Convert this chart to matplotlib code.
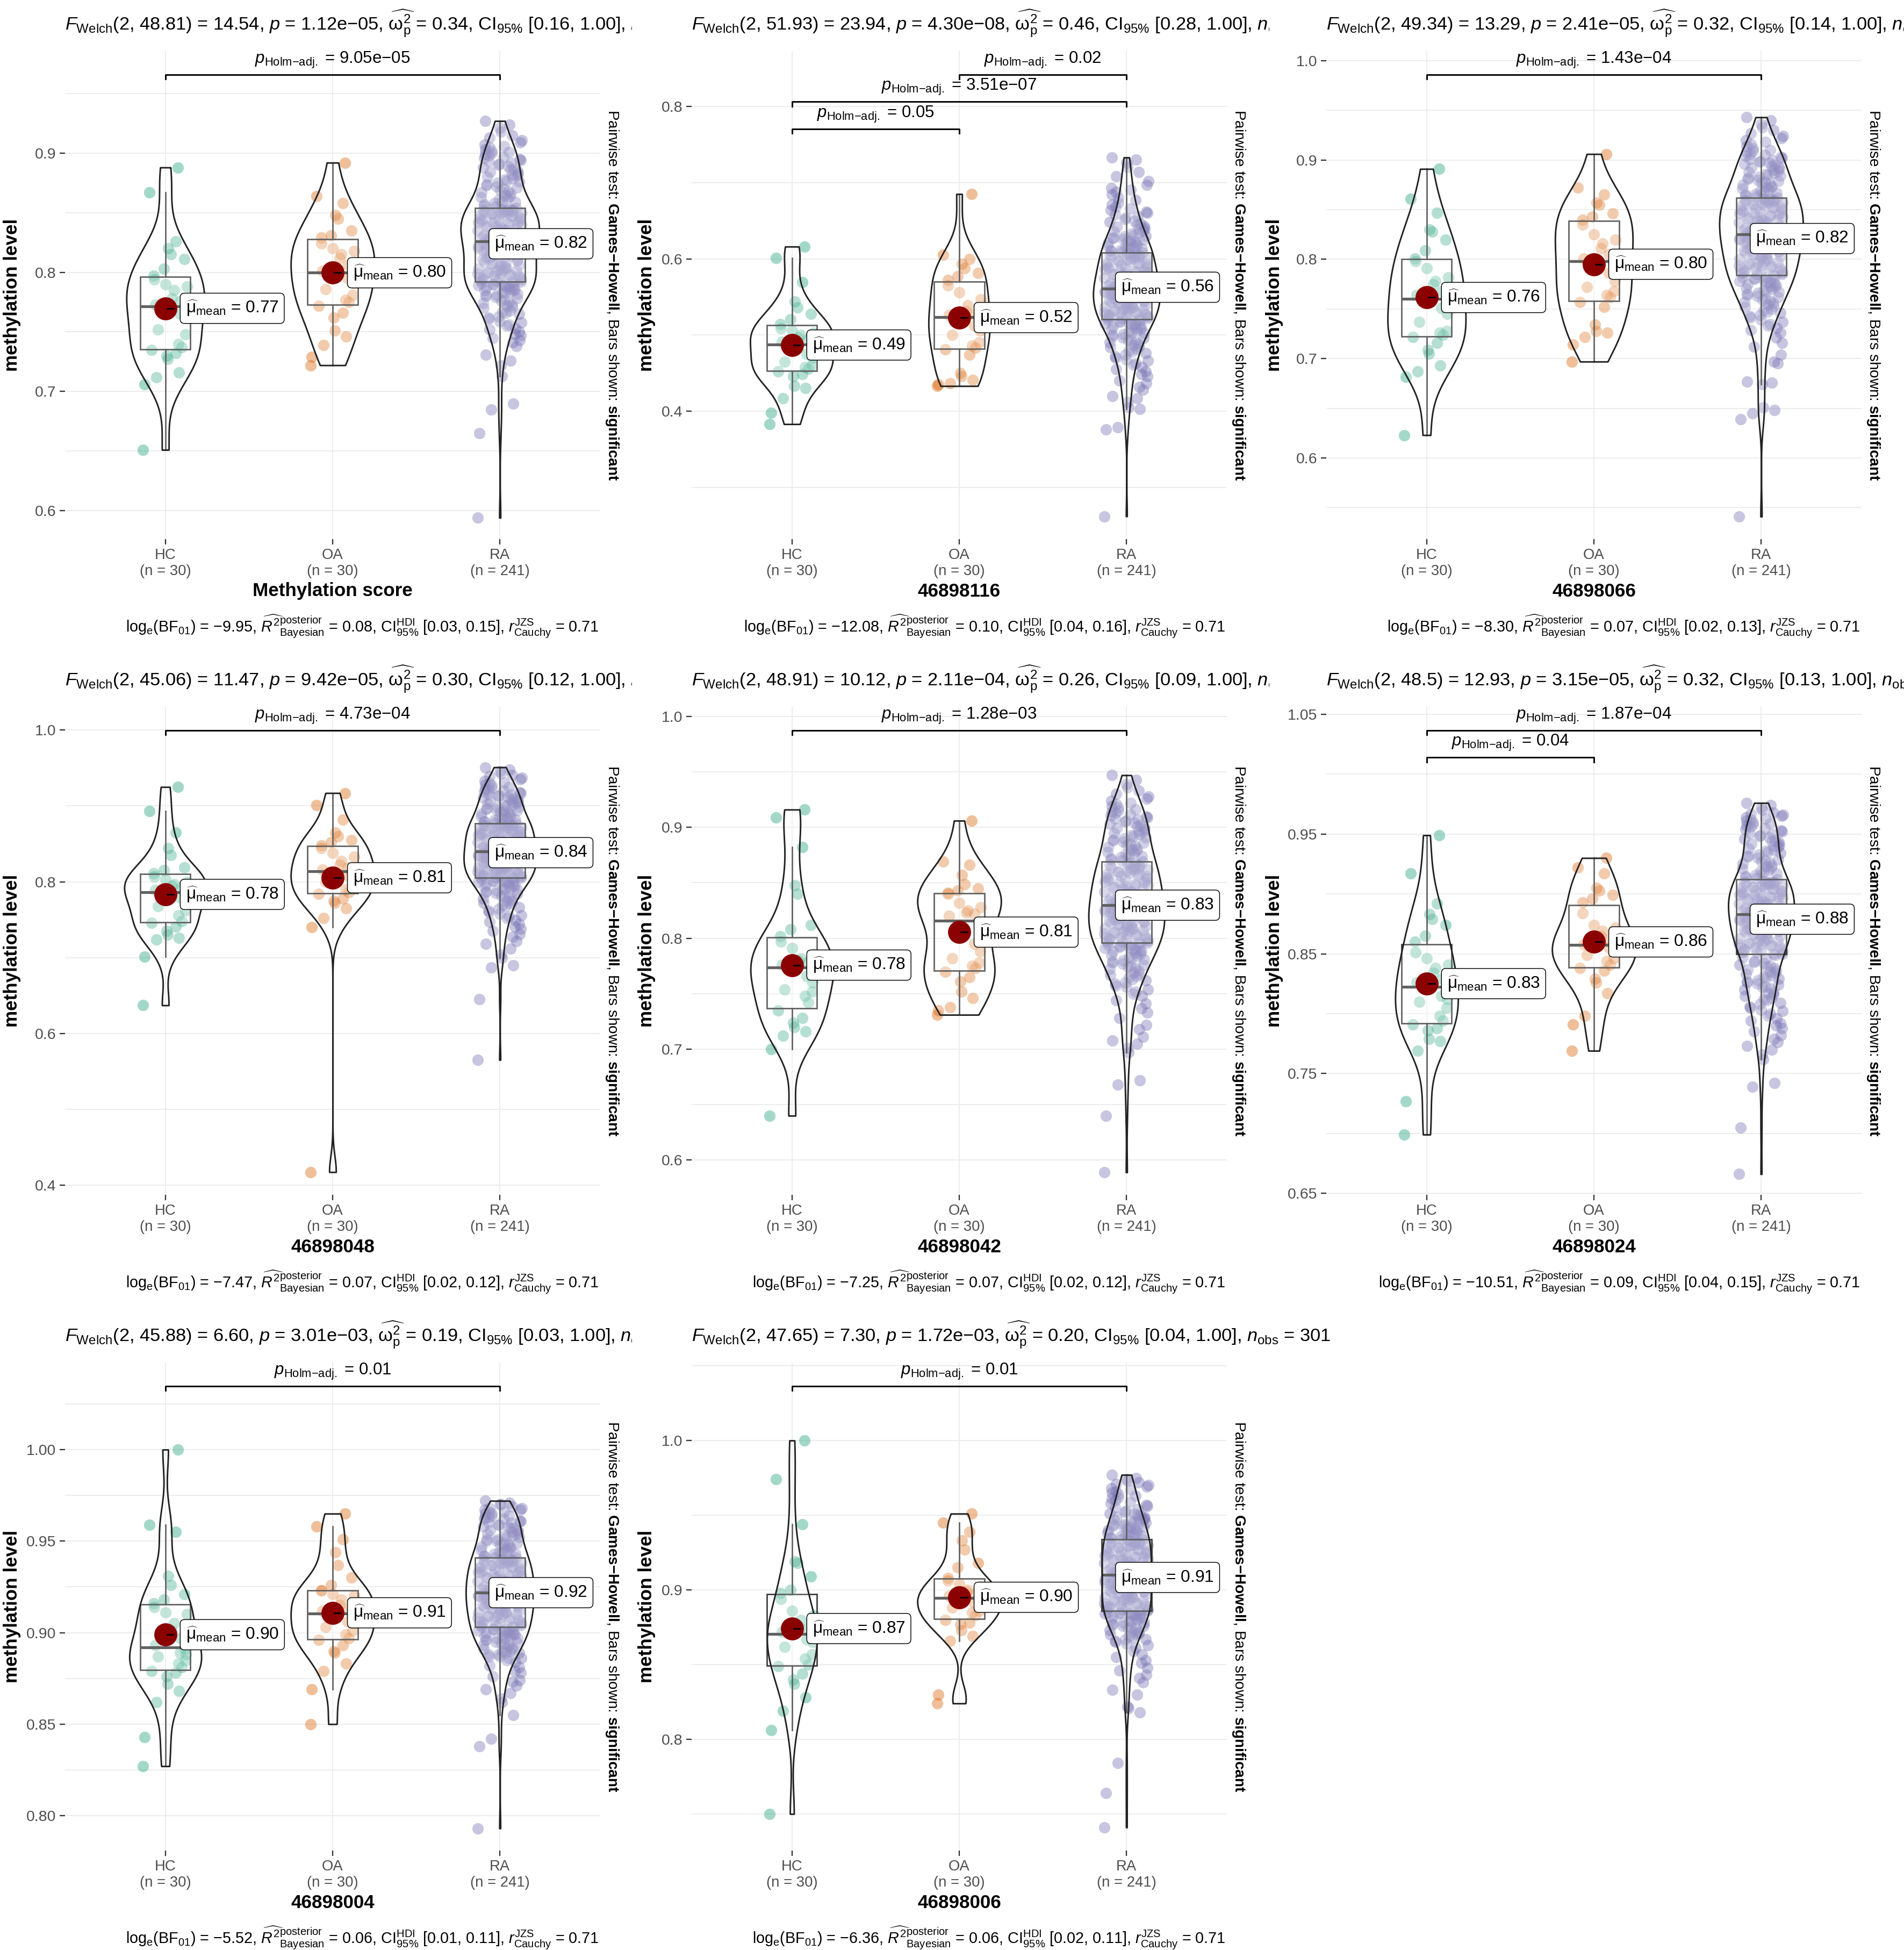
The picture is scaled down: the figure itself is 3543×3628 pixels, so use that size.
# -*- coding: utf-8 -*-
# ggbetweenstats-like grid: violin + box + jitter per probe, 3 groups each
import numpy as np
import matplotlib
matplotlib.use("Agg")
import matplotlib.pyplot as plt
from matplotlib.patches import Rectangle
from matplotlib.transforms import Bbox, TransformedBbox

plt.rcParams['font.family'] = ['Liberation Sans', 'DejaVu Sans']
plt.rcParams['mathtext.fontset'] = 'custom'
plt.rcParams['mathtext.rm'] = 'Liberation Sans'
plt.rcParams['mathtext.it'] = 'Liberation Sans:italic'
plt.rcParams['mathtext.bf'] = 'Liberation Sans:bold'
plt.rcParams['mathtext.sf'] = 'Liberation Sans'

groups = ['HC', 'OA', 'RA']
group_n = ['(n = 30)', '(n = 30)', '(n = 241)']
colors = ['#1B9E77', '#D95F02', '#7570B3']

panel_names = ['Methylation score', '46898116', '46898066', '46898048',
               '46898042', '46898024', '46898004', '46898006']

# methylation values, in thousandths
hc_1 = [651, 706, 712, 716, 727, 730, 732, 735, 737, 740, 748, 752, 762, 765, 770,
        773, 776, 778, 785, 788, 790, 794, 797, 803, 811, 815, 820, 826, 867, 888]
oa_1 = [722, 729, 739, 746, 751, 762, 766, 772, 775, 777, 781, 786, 791, 795, 799,
        801, 806, 812, 815, 818, 820, 824, 829, 831, 835, 845, 848, 858, 864, 892]
ra_1 = [594, 665, 685, 690, 713, 722, 726, 731, 738, 741,
        743, 745, 747, 748, 750, 752, 753, 755, 756, 758,
        759, 761, 762, 763, 765, 766, 767, 768, 770, 771,
        772, 773, 774, 775, 776, 777, 778, 779, 780, 781,
        781, 782, 783, 783, 784, 785, 785, 786, 786, 787,
        787, 788, 788, 789, 789, 790, 790, 790, 791, 791,
        792, 792, 793, 793, 794, 794, 795, 795, 796, 796,
        797, 797, 798, 798, 799, 799, 800, 800, 801, 801,
        802, 802, 803, 803, 804, 805, 805, 806, 806, 807,
        808, 808, 809, 810, 810, 811, 812, 812, 813, 814,
        814, 815, 816, 816, 817, 818, 818, 819, 820, 820,
        821, 821, 822, 823, 823, 824, 824, 825, 825, 826,
        826, 827, 827, 828, 828, 829, 829, 830, 830, 831,
        831, 832, 832, 833, 833, 834, 834, 835, 835, 836,
        836, 837, 837, 838, 838, 839, 839, 840, 840, 841,
        841, 842, 842, 843, 843, 844, 844, 845, 845, 846,
        846, 847, 847, 848, 848, 849, 849, 850, 850, 850,
        851, 851, 851, 852, 852, 852, 852, 853, 853, 853,
        854, 855, 856, 857, 858, 859, 860, 861, 862, 863,
        864, 865, 866, 867, 868, 869, 870, 871, 872, 873,
        874, 875, 876, 877, 878, 879, 880, 881, 882, 883,
        884, 885, 886, 887, 888, 889, 890, 891, 892, 893,
        894, 895, 896, 897, 898, 899, 900, 901, 902, 903,
        905, 906, 907, 909, 911, 913, 915, 918, 921, 924, 927]

hc_2 = [383, 398, 417, 430, 433, 446, 449, 452, 456, 458, 461, 465, 470, 475, 484,
        491, 494, 497, 500, 503, 506, 509, 514, 521, 528, 536, 544, 569, 601, 616]
oa_2 = [433, 435, 437, 441, 446, 450, 474, 481, 483, 486, 490, 500, 506, 512, 521,
        526, 527, 531, 539, 547, 556, 565, 572, 577, 581, 588, 593, 600, 605, 685]
ra_2 = [262, 376, 379, 403, 405, 412, 417, 420, 428, 432, 437, 440, 446, 449, 452,
        455, 458, 461, 463, 466, 468, 470, 472, 474, 476,
        478, 480, 482, 484, 485, 487, 488, 490, 491, 493,
        494, 496, 497, 498, 500, 501, 502, 503, 505, 506,
        507, 508, 509, 510, 511, 512, 513, 514, 515, 516,
        517, 518, 519, 520, 520,
        521, 522, 522, 523, 524, 524, 525, 526, 526, 527,
        528, 528, 529, 530, 530, 531, 532, 532, 533, 534,
        534, 535, 536, 537, 537, 538, 539, 540, 540, 541,
        542, 542, 543, 544, 545, 545, 546, 547, 548, 548,
        549, 550, 551, 551, 552, 553, 554, 554, 555, 556,
        556, 557, 557, 558, 558, 559, 559, 560, 560, 560,
        561, 562, 562, 563, 564, 565, 565, 566, 567, 568,
        568, 569, 570, 571, 571, 572, 573, 574, 575, 575,
        576, 577, 578, 579, 579, 580, 581, 582, 583, 583,
        584, 585, 586, 587, 588, 588, 589, 590, 591, 592,
        593, 594, 594, 595, 596, 597, 598, 599, 600, 601,
        601, 602, 603, 603, 604, 605, 605, 606, 606, 607,
        608, 609, 610, 611, 612, 613, 614, 615, 616, 617,
        618, 619, 620, 621, 622, 623, 624, 625, 626, 627,
        628, 629, 630, 631, 633, 634, 636, 637, 639, 640,
        642, 643, 645, 646, 648, 650, 652, 654, 656, 658,
        660, 662, 664, 666, 668, 671, 674, 677, 680, 684,
        688, 691, 693, 697, 702, 708, 714, 720, 726, 730, 733]

hc_3 = [623, 682, 687, 693, 705, 709, 716, 722, 724, 726, 728, 737, 745, 751, 756,
        764, 768, 775, 778, 782, 791, 798, 801, 809, 820, 828, 830, 847, 861, 891]
oa_3 = [697, 714, 722, 726, 728, 734, 752, 757, 762, 764, 768, 772, 778, 786, 795,
        801, 805, 811, 816, 820, 825, 835, 840, 843, 846, 855, 857, 865, 872, 906]
ra_3 = [541, 639, 645, 648, 651, 674, 676, 677, 695, 697, 704, 712, 716, 721, 726,
        729, 731,
        733, 735, 737, 739, 741, 743, 744, 746, 747, 749,
        750, 752, 753, 754, 756, 757, 758, 759, 760, 762,
        763, 764, 765, 766, 767, 768, 769, 770, 771, 772,
        773, 774, 775, 776, 777, 777, 778, 779, 780, 781,
        782, 782, 783,
        784, 785, 785, 786, 787, 787, 788, 789, 789, 790,
        791, 791, 792, 793, 794, 794, 795, 796, 796, 797,
        798, 799, 799, 800, 801, 802, 802, 803, 804, 805,
        805, 806, 807, 808, 808, 809, 810, 811, 811, 812,
        813, 814, 814, 815, 816, 817, 817, 818, 819, 820,
        820, 821, 821, 822, 822, 823, 823, 824, 824, 825,
        825, 826, 826, 827, 828, 828, 829, 830, 830, 831,
        832, 832, 833, 834, 834, 835, 836, 836, 837, 838,
        838, 839, 840, 840, 841, 842, 842, 843, 844, 844,
        845, 846, 846, 847, 848, 848, 849, 850, 850, 851,
        852, 852, 853, 854, 854, 855, 856, 856, 857, 857,
        858, 858, 859, 859, 860, 860, 860, 861, 861, 861,
        862, 863, 864, 865, 866, 867, 868, 869, 870, 871,
        872, 873, 874, 875, 876, 877, 878, 879, 880, 881,
        882, 883, 884, 885, 886, 887, 888, 889, 890, 891,
        892, 893, 894, 895, 896, 897, 898, 899, 900, 901,
        902, 903, 904, 905, 906, 908, 909, 910, 912, 914,
        916, 918, 920, 922, 924, 927, 930, 933, 936, 940, 943]

hc_4 = [637, 701, 724, 726, 730, 735, 741, 746, 748, 756, 762, 768, 773, 779, 784,
        789, 792, 795, 797, 800, 803, 807, 811, 815, 819, 835, 844, 865, 893, 925]
oa_4 = [417, 740, 752, 765, 772, 775, 778, 784, 786, 790, 795, 800, 804, 808, 812,
        816, 819, 822, 827, 833, 838, 844, 848, 852, 855, 860, 865, 882, 901, 917]
ra_4 = [565, 645, 687, 690, 700, 704, 712, 718, 722, 727, 731, 735, 738, 741,
        744, 747, 749, 752, 754, 756, 758, 760, 762, 764,
        766, 768, 769, 771, 772, 774, 775, 777, 778, 780,
        781, 782, 784, 785, 786, 787, 788, 789, 790, 791,
        792, 793, 794, 795, 796, 797, 798, 799, 799, 800,
        801, 801, 802, 803, 803, 804,
        805, 805, 806, 806, 807, 808, 808, 809, 809, 810,
        811, 811, 812, 812, 813, 814, 814, 815, 815, 816,
        817, 817, 818, 818, 819, 820, 820, 821, 821, 822,
        823, 823, 824, 824, 825, 826, 826, 827, 827, 828,
        829, 829, 830, 830, 831, 832, 832, 833, 833, 834,
        835, 835, 836, 836, 837, 838, 838, 839, 839, 840,
        840, 841, 841, 842, 843, 843, 844, 845, 845, 846,
        847, 847, 848, 849, 849, 850, 851, 851, 852, 853,
        853, 854, 855, 855, 856, 857, 857, 858, 859, 859,
        860, 861, 861, 862, 863, 863, 864, 865, 865, 866,
        867, 867, 868, 869, 869, 870, 871, 871, 872, 872,
        873, 873, 874, 874, 875, 875, 875, 876, 876, 876,
        877, 878, 879, 880, 881, 882, 883, 884, 885, 886,
        887, 888, 889, 890, 891, 892, 893, 894, 895, 896,
        897, 898, 899, 900, 901, 902, 903, 904, 905, 906,
        907, 908, 909, 910, 911, 912, 913, 914, 915, 916,
        917, 918, 919, 920, 921, 922, 924, 925, 927, 928,
        930, 931, 933, 935, 937, 939, 941, 943, 946, 948, 951]

hc_5 = [640, 700, 712, 716, 720, 724, 728, 735, 742, 748, 752, 754, 760, 766, 771,
        776, 778, 780, 782, 786, 791, 797, 802, 808, 812, 840, 848, 882, 909, 916]
oa_5 = [731, 735, 738, 746, 752, 761, 765, 770, 773, 775, 778, 782, 788, 795, 812,
        820, 822, 823, 825, 828, 832, 840, 841, 843, 845, 849, 857, 866, 869, 906]
ra_5 = [589, 640, 668, 672, 697, 701, 705, 708, 711, 718, 722, 728, 733, 737, 741,
        744, 748,
        750, 752, 754, 756, 757, 759, 760, 762, 763, 765,
        766, 767, 768, 769, 771, 772, 773, 774, 775, 776,
        777, 778, 779, 780, 781, 782, 783, 784, 785, 786,
        787, 788, 788, 789, 790, 790, 791, 792, 792, 793,
        794, 794, 795,
        796, 796, 797, 797, 798, 799, 799, 800, 800, 801,
        801, 802, 803, 803, 804, 804, 805, 805, 806, 807,
        807, 808, 808, 809, 809, 810, 811, 811, 812, 812,
        813, 814, 814, 815, 815, 816, 817, 817, 818, 818,
        819, 820, 820, 821, 821, 822, 823, 823, 824, 824,
        825, 825, 826, 826, 827, 827, 828, 828, 829, 829,
        830, 830, 831, 832, 832, 833, 834, 834, 835, 836,
        836, 837, 838, 838, 839, 840, 840, 841, 842, 842,
        843, 844, 844, 845, 846, 846, 847, 848, 848, 849,
        850, 850, 851, 852, 852, 853, 854, 854, 855, 856,
        856, 857, 858, 858, 859, 860, 860, 861, 862, 862,
        863, 863, 864, 865, 865, 866, 866, 867, 867, 868,
        869, 870, 871, 872, 873, 874, 875, 876, 877, 878,
        879, 880, 881, 882, 883, 884, 885, 886, 887, 888,
        889, 890, 891, 892, 893, 894, 895, 896, 897, 898,
        899, 900, 901, 902, 903, 904, 905, 906, 907, 908,
        909, 910, 911, 912, 913, 914, 915, 916, 918, 919,
        921, 922, 924, 926, 928, 930, 933, 936, 939, 943, 947]

hc_6 = [699, 727, 769, 777, 779, 786, 788, 791, 794, 798, 805, 810, 812, 815, 819,
        826, 829, 834, 838, 841, 846, 851, 860, 865, 874, 879, 883, 892, 917, 949]
oa_6 = [769, 791, 798, 817, 826, 829, 836, 838, 841, 844, 846, 849, 853, 855, 857,
        858, 862, 865, 869, 872, 874, 884, 893, 896, 899, 903, 905, 917, 922, 930]
ra_6 = [666, 705, 739, 742, 762, 766, 770, 773, 776, 779, 782, 785, 788, 790,
        792, 794, 796, 798, 800, 802, 803, 805, 806, 808,
        809, 811, 812, 813, 815, 816, 817, 818, 820, 821,
        822, 823, 824, 825, 826, 827, 828, 829, 830, 831,
        832, 833, 834, 835, 836, 837, 838, 839, 840, 841,
        842, 843, 844, 846, 847, 849,
        850, 850, 851, 851, 852, 853, 853, 854, 854, 855,
        855, 856, 857, 857, 858, 858, 859, 859, 860, 861,
        861, 862, 862, 863, 863, 864, 865, 865, 866, 866,
        867, 867, 868, 869, 869, 870, 870, 871, 871, 872,
        873, 873, 874, 874, 875, 875, 876, 877, 877, 878,
        878, 879, 879, 880, 880, 881, 881, 882, 882, 883,
        883, 884, 884, 885, 885, 886, 886, 887, 887, 888,
        888, 889, 889, 890, 890, 891, 891, 892, 892, 893,
        893, 894, 894, 895, 895, 896, 896, 897, 897, 898,
        898, 899, 899, 900, 900, 901, 901, 902, 902, 903,
        903, 904, 904, 905, 905, 906, 906, 907, 907, 908,
        908, 908, 909, 909, 909, 910, 910, 910, 911, 911,
        912, 913, 914, 915, 916, 917, 918, 919, 920, 921,
        922, 923, 924, 925, 926, 927, 928, 929, 930, 931,
        932, 933, 934, 935, 936, 937, 938, 939, 940, 941,
        942, 943, 944, 945, 946, 947, 948, 949, 950, 951,
        952, 953, 954, 955, 956, 957, 958, 959, 960, 961,
        962, 963, 964, 965, 966, 967, 968, 970, 972, 974, 976]

hc_7 = [827, 843, 862, 868, 872, 876, 878, 879, 881, 883, 885, 887, 888, 889, 891,
        893, 897, 901, 905, 910, 911, 914, 916, 918, 921, 926, 931, 955, 959, 1000]
oa_7 = [850, 869, 879, 883, 889, 890, 893, 896, 897, 899, 901, 903, 905, 906, 909,
        912, 913, 915, 918, 920, 921, 923, 923, 926, 930, 937, 944, 951, 958, 965]
ra_7 = [793, 838, 842, 855, 862, 864, 867, 869, 871, 873, 874, 876, 878, 879, 881,
        882, 884, 885,
        886, 886, 887, 887, 888, 888, 889, 889, 890, 890,
        891, 891, 892, 892, 893, 893, 894, 894, 895, 895,
        896, 896, 897, 897, 897, 898, 898, 898, 899, 899,
        899, 900, 900, 900, 901, 901, 901, 902, 902, 902,
        903, 903,
        903, 904, 904, 904, 905, 905, 905, 906, 906, 906,
        907, 907, 907, 908, 908, 908, 909, 909, 909, 910,
        910, 910, 911, 911, 911, 912, 912, 912, 913, 913,
        913, 914, 914, 914, 915, 915, 915, 916, 916, 916,
        917, 917, 917, 918, 918, 918, 919, 919, 919, 920,
        920, 920, 920, 921, 921, 921, 921, 921, 922, 922,
        922, 922, 923, 923, 923, 924, 924, 924, 925, 925,
        925, 926, 926, 926, 927, 927, 927, 928, 928, 928,
        929, 929, 929, 930, 930, 930, 931, 931, 931, 932,
        932, 932, 933, 933, 933, 934, 934, 934, 935, 935,
        935, 936, 936, 936, 937, 937, 937, 938, 938, 938,
        938, 939, 939, 939, 939, 940, 940, 940, 940, 940,
        941, 941, 942, 942, 943, 943, 944, 944, 945, 945,
        946, 946, 947, 947, 948, 948, 949, 949, 950, 950,
        951, 951, 952, 952, 953, 953, 954, 954, 955, 955,
        956, 956, 957, 957, 958, 958, 959, 959, 960, 960,
        961, 961, 962, 962, 963, 963, 964, 964, 965, 965,
        966, 966, 967, 967, 968, 968, 969, 970, 970, 971, 972]

hc_8 = [750, 806, 819, 828, 837, 840, 844, 849, 850, 854, 857, 862, 865, 867, 869,
        872, 874, 876, 880, 883, 886, 894, 898, 900, 909, 918, 919, 944, 974, 1000]
oa_8 = [824, 830, 866, 869, 873, 877, 878, 880, 883, 885, 886, 888, 889, 891, 893,
        896, 897, 899, 900, 902, 904, 906, 908, 915, 918, 927, 933, 939, 945, 951]
ra_8 = [741, 764, 784, 818, 821, 822, 830, 833, 838, 841, 843, 846, 848, 851, 853,
        855, 857, 859, 861, 863,
        864, 865, 866, 867, 867, 868, 869, 870, 870, 871,
        872, 872, 873, 874, 874, 875, 876, 876, 877, 877,
        878, 878, 879, 879, 880, 880, 881, 881, 882, 882,
        883, 883, 883, 884, 884, 884, 885, 885, 885, 885,
        886, 886, 887, 887, 887, 888, 888, 889, 889, 889,
        890, 890, 891, 891, 891, 892, 892, 893, 893, 893,
        894, 894, 895, 895, 895, 896, 896, 897, 897, 897,
        898, 898, 899, 899, 899, 900, 900, 901, 901, 901,
        902, 902, 903, 903, 903, 904, 904, 905, 905, 905,
        906, 906, 907, 907, 908, 908, 909, 909, 910, 910,
        910, 911, 911, 912, 912, 912, 913, 913, 914, 914,
        914, 915, 915, 916, 916, 916, 917, 917, 918, 918,
        918, 919, 919, 920, 920, 920, 921, 921, 922, 922,
        922, 923, 923, 924, 924, 924, 925, 925, 926, 926,
        926, 927, 927, 928, 928, 928, 929, 929, 930, 930,
        930, 931, 931, 931, 932, 932, 932, 932, 933, 933,
        934, 934, 935, 935, 936, 936, 937, 937, 938, 938,
        939, 939, 940, 940, 941, 941, 942, 942, 943, 943,
        944, 944, 945, 945, 946, 946, 947, 947, 948, 948,
        949, 949, 950, 950, 951, 951, 952, 953, 954, 955,
        956, 957, 958, 959, 960, 961, 962, 963, 964, 965,
        966, 967, 968, 969, 970, 971, 972, 973, 974, 975, 977]

panel_data = [(hc_1, oa_1, ra_1), (hc_2, oa_2, ra_2), (hc_3, oa_3, ra_3),
              (hc_4, oa_4, ra_4), (hc_5, oa_5, ra_5), (hc_6, oa_6, ra_6),
              (hc_7, oa_7, ra_7), (hc_8, oa_8, ra_8)]

mean_labels = [['0.77', '0.80', '0.82'], ['0.49', '0.52', '0.56'],
               ['0.76', '0.80', '0.82'], ['0.78', '0.81', '0.84'],
               ['0.78', '0.81', '0.83'], ['0.83', '0.86', '0.88'],
               ['0.90', '0.91', '0.92'], ['0.87', '0.90', '0.91']]

# (group a, group b, adjusted p) from top bracket down
pairs = [[(1, 3, '9.05e−05')],
         [(2, 3, '0.02'), (1, 3, '3.51e−07'), (1, 2, '0.05')],
         [(1, 3, '1.43e−04')],
         [(1, 3, '4.73e−04')],
         [(1, 3, '1.28e−03')],
         [(1, 3, '1.87e−04'), (1, 2, '0.04')],
         [(1, 3, '0.01')],
         [(1, 3, '0.01')]]

welch = [('48.81', '14.54', '1.12e−05', '0.34', '[0.16, 1.00]'),
         ('51.93', '23.94', '4.30e−08', '0.46', '[0.28, 1.00]'),
         ('49.34', '13.29', '2.41e−05', '0.32', '[0.14, 1.00]'),
         ('45.06', '11.47', '9.42e−05', '0.30', '[0.12, 1.00]'),
         ('48.91', '10.12', '2.11e−04', '0.26', '[0.09, 1.00]'),
         ('48.5', '12.93', '3.15e−05', '0.32', '[0.13, 1.00]'),
         ('45.88', '6.60', '3.01e−03', '0.19', '[0.03, 1.00]'),
         ('47.65', '7.30', '1.72e−03', '0.20', '[0.04, 1.00]')]

bayes = [('−9.95', '0.08', '[0.03, 0.15]'), ('−12.08', '0.10', '[0.04, 0.16]'),
         ('−8.30', '0.07', '[0.02, 0.13]'), ('−7.47', '0.07', '[0.02, 0.12]'),
         ('−7.25', '0.07', '[0.02, 0.12]'), ('−10.51', '0.09', '[0.04, 0.15]'),
         ('−5.52', '0.06', '[0.01, 0.11]'), ('−6.36', '0.06', '[0.02, 0.11]')]

yticks = [[0.6, 0.7, 0.8, 0.9], [0.4, 0.6, 0.8], [0.6, 0.7, 0.8, 0.9, 1.0],
          [0.4, 0.6, 0.8, 1.0], [0.6, 0.7, 0.8, 0.9, 1.0],
          [0.65, 0.75, 0.85, 0.95, 1.05], [0.80, 0.85, 0.90, 0.95, 1.00],
          [0.8, 0.9, 1.0]]
ytick_labels = [['0.6', '0.7', '0.8', '0.9'], ['0.4', '0.6', '0.8'],
                ['0.6', '0.7', '0.8', '0.9', '1.0'], ['0.4', '0.6', '0.8', '1.0'],
                ['0.6', '0.7', '0.8', '0.9', '1.0'],
                ['0.65', '0.75', '0.85', '0.95', '1.05'],
                ['0.80', '0.85', '0.90', '0.95', '1.00'], ['0.8', '0.9', '1.0']]
yminor = [[0.65, 0.75, 0.85, 0.95], [0.3, 0.5, 0.7],
          [0.55, 0.65, 0.75, 0.85, 0.95], [0.5, 0.7, 0.9],
          [0.65, 0.75, 0.85, 0.95], [0.70, 0.80, 0.90, 1.00],
          [0.825, 0.875, 0.925, 0.975, 1.025], [0.75, 0.85, 0.95, 1.05]]
ylims = [(0.5761, 0.9857), (0.2321, 0.8727), (0.5183, 1.0097), (0.3870, 1.0308),
         (0.5687, 1.0087), (0.6487, 1.0563), (0.7809, 1.0476), (0.7255, 1.0522)]

pw_text = r"Pairwise test: $\mathbf{Games{-}Howell}$, Bars shown: $\mathbf{significant}$"


def nrd0(v):
    sd = np.std(v, ddof=1)
    q75, q25 = np.percentile(v, [75, 25])
    lo = min(sd, (q75 - q25) / 1.34)
    if lo == 0:
        lo = sd
    return 0.9 * lo * len(v) ** -0.2


def kde(v, grid, bw):
    z = (grid[:, None] - v[None, :]) / bw
    return np.exp(-0.5 * z * z).sum(1) / (len(v) * bw * np.sqrt(2 * np.pi))


W, H = 3543, 3628
col_left = [121, 1287, 2468]      # panel left edge, px
col_ylab = [23, 1204, 2371]       # y-axis title x, px
col_clip = [(0, 1176), (1176, 2362), (2362, 3543)]
row_top = [0, 1220, 2440]
PW = 996
PT, PB = 95, 1003                 # panel top / bottom inside a row, px

fig = plt.figure(figsize=(W / 300, H / 300), dpi=300)
fig.patch.set_facecolor('white')

for k in range(8):
    r, c = divmod(k, 3)
    x0, y0 = col_left[c], row_top[r]
    ax = fig.add_axes([x0 / W, 1 - (y0 + PB) / H, PW / W, (PB - PT) / H])
    ax.set_facecolor('none')
    for s in ax.spines.values():
        s.set_visible(False)

    vals = [np.array(g, dtype=float) / 1000 for g in panel_data[k]]

    # violins: ggplot scale="area" -> shared density max
    grids, dens = [], []
    for v in vals:
        gy = np.linspace(v.min(), v.max(), 300)
        grids.append(gy)
        dens.append(kde(v, gy, nrd0(v)))
    dmax = max(d.max() for d in dens)

    for i, v in enumerate(vals):
        x = i + 1
        n = len(v)
        idx = np.arange(n)
        jit = (((idx * idx * 0.6180339887 + idx * 0.4142135) % 1.0) - 0.5) * 2 * 0.133
        ax.scatter(x + jit, v, s=26, color=colors[i], alpha=0.4, linewidths=0, zorder=2)

        q1, med, q3 = np.percentile(v, [25, 50, 75])
        iqr = q3 - q1
        lo = v[v >= q1 - 1.5 * iqr].min()
        hi = v[v <= q3 + 1.5 * iqr].max()
        bc = '#3A3A3A'
        ax.add_patch(Rectangle((x - 0.15, q1), 0.3, q3 - q1, facecolor=(1, 1, 1, 0.2),
                               edgecolor=bc, lw=0.65, zorder=3))
        ax.plot([x - 0.15, x + 0.15], [med, med], color=bc, lw=1.25, zorder=3,
                solid_capstyle='butt')
        ax.plot([x, x], [q3, hi], color=bc, lw=0.65, zorder=3)
        ax.plot([x, x], [lo, q1], color=bc, lw=0.65, zorder=3)

        half = dens[i] / dmax * 0.25
        ax.fill_betweenx(grids[i], x - half, x + half, facecolor=(1, 1, 1, 0.2),
                         edgecolor='#222222', lw=0.7, zorder=4)

        m = v.mean()
        ax.scatter([x], [m], s=106, color='#8B0000', linewidths=0, zorder=5)
        ax.plot([x + 0.01, x + 0.048], [m, m], color='black', lw=0.65, zorder=6)
        lab = r"$\widehat{\mathrm{\mu}}_{\mathrm{mean}}$ = " + mean_labels[k][i]
        bb = dict(boxstyle='round,pad=0.33,rounding_size=0.25', fc='white',
                  ec='black', lw=0.35)
        if i < 2:
            ax.annotate(lab, xy=(x, m), xytext=(38, 0), textcoords='offset pixels',
                        ha='left', va='center', fontsize=7.6, bbox=bb, zorder=7)
        else:
            ax.annotate(lab, xy=(1, m), xycoords=('axes fraction', 'data'),
                        xytext=(-24, 0), textcoords='offset pixels',
                        ha='right', va='center', fontsize=7.6, bbox=bb, zorder=7)

    tr = ax.get_xaxis_transform()
    for j, (a, b, ptxt) in enumerate(pairs[k]):
        yb = 0.952 - 0.056 * j
        ax.plot([a, a, b, b], [yb - 0.009, yb, yb, yb - 0.009], transform=tr,
                color='black', lw=0.7, clip_on=False, zorder=8)
        ax.text((a + b) / 2, yb + 0.01, r"$p_{\mathrm{Holm{-}adj.}}$ = " + ptxt,
                transform=tr, ha='center', va='bottom', fontsize=7.5, zorder=8)

    ax.set_xlim(0.4, 3.6)
    ax.set_ylim(*ylims[k])
    ax.set_xticks([1, 2, 3])
    ax.set_xticklabels([g + '\n' + nn for g, nn in zip(groups, group_n)],
                       fontsize=6.6, color='#4D4D4D', linespacing=1.2)
    ax.set_yticks(yticks[k])
    ax.set_yticklabels(ytick_labels[k], fontsize=6.8, color='#4D4D4D')
    ax.set_yticks(yminor[k], minor=True)
    ax.tick_params(which='major', length=2.4, width=0.55, color='#333333', pad=1.6)
    ax.tick_params(which='minor', length=0)
    ax.grid(which='major', color='#EBEBEB', lw=0.45)
    ax.grid(which='minor', axis='y', color='#EBEBEB', lw=0.45)
    ax.set_axisbelow(True)

    df, F, p, w, ci = welch[k]
    title = (r"$F_{\mathrm{Welch}}$(2, " + df + ") = " + F + ", $p$ = " + p +
             r", $\widehat{\mathrm{\omega}_{\mathrm{p}}^{2}}$ = " + w +
             r", $\mathrm{CI}_{95\%}$ " + ci + r", $n_{\mathrm{obs}}$ = 301")
    t = fig.text(x0 / W, 1 - (y0 + 57) / H, title, ha='left',
                 va='baseline', fontsize=8.25)
    if k < 7:
        c0, c1 = col_clip[c]
        t.set_clip_box(TransformedBbox(
            Bbox.from_extents(c0 / W, 0, c1 / W, 1), fig.transFigure))
        t.set_clip_on(True)

    bf, r2, hdi = bayes[k]
    cap = (r"$\mathrm{log}_{\mathrm{e}}$($\mathrm{BF}_{01}$) = " + bf +
           r", $\widehat{R^{2}}_{\mathrm{Bayesian}}^{\mathrm{posterior}}$ = " + r2 +
           r", $\mathrm{CI}_{95\%}^{\mathrm{HDI}}$ " + hdi +
           r", $r_{\mathrm{Cauchy}}^{\mathrm{JZS}}$ = 0.71")
    fig.text((x0 + PW - 2) / W, 1 - (y0 + 1176) / H, cap, ha='right',
             va='baseline', fontsize=6.9)

    pc = (PT + PB) / 2
    fig.text((x0 + PW / 2) / W, 1 - (y0 + 1100) / H, panel_names[k], ha='center',
             va='center', fontsize=8.4, fontweight='bold')
    fig.text(col_ylab[c] / W, 1 - (y0 + pc) / H, 'methylation level', rotation=90,
             ha='center', va='center', fontsize=8.4, fontweight='bold')
    fig.text((x0 + PW + 22) / W, 1 - (y0 + pc) / H, pw_text, rotation=270,
             ha='center', va='center', fontsize=6.7)

fig.savefig('out.png', dpi=300)
